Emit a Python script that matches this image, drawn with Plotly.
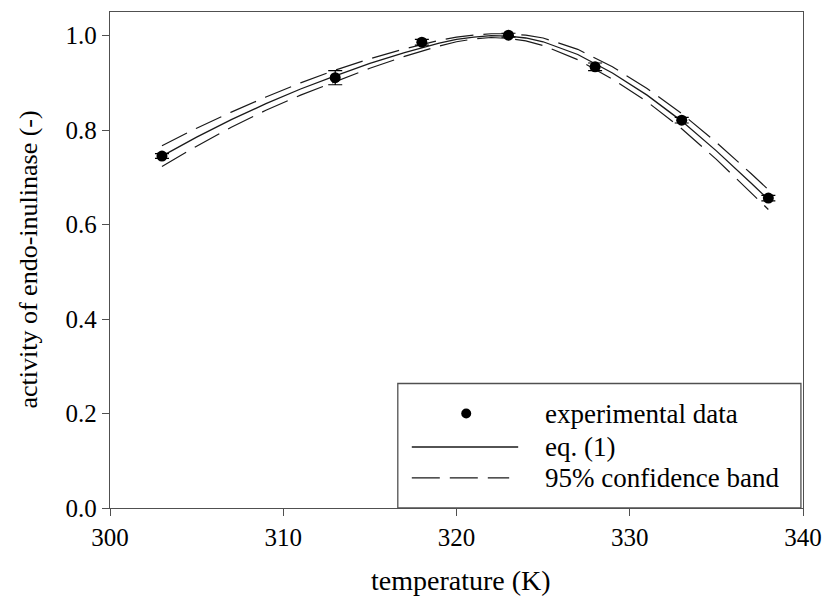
import plotly.graph_objects as go

# experimental data
T_exp = [303, 313, 318, 323, 328, 333, 338]
A_exp = [0.745, 0.911, 0.986, 1.001, 0.934, 0.821, 0.656]
A_err = [0.005, 0.015, 0.006, 0.004, 0.008, 0.006, 0.006]

# fitted curve eq. (1)
T_fit = [303, 305, 307, 309, 311, 313, 315, 317, 319, 320, 321, 322, 323, 324, 325, 327, 329, 331, 333, 335, 337, 338]
A_fit = [0.745, 0.785, 0.822, 0.856, 0.887, 0.915, 0.941, 0.964, 0.984, 0.992, 0.997, 1.000, 0.999, 0.995, 0.987, 0.960, 0.921, 0.874, 0.819, 0.756, 0.688, 0.653]
A_upper = [0.767, 0.804, 0.838, 0.870, 0.900, 0.927, 0.951, 0.972, 0.990, 0.997, 1.001, 1.004, 1.004, 1.001, 0.995, 0.971, 0.934, 0.888, 0.835, 0.774, 0.708, 0.674]
A_lower = [0.723, 0.766, 0.806, 0.842, 0.874, 0.903, 0.931, 0.956, 0.978, 0.987, 0.993, 0.996, 0.994, 0.989, 0.979, 0.949, 0.908, 0.860, 0.803, 0.738, 0.668, 0.632]

x_ticks = [300, 310, 320, 330, 340]
y_ticks = [0.0, 0.2, 0.4, 0.6, 0.8, 1.0]

legend_labels = ["experimental data", "eq. (1)", "95% confidence band"]
x_title = "temperature (K)"
y_title = "activity of endo-inulinase (-)"

FONT = "Times New Roman, Liberation Serif, Noto Serif, DejaVu Serif, serif"
INK = "#1a1a1a"
FRAME = "#505050"
DASH = "28px,10px"

fig = go.Figure()
fig.add_trace(go.Scatter(x=T_fit, y=A_upper, mode="lines",
                         line=dict(color=INK, width=1.2, dash=DASH), showlegend=False))
fig.add_trace(go.Scatter(x=T_fit, y=A_lower, mode="lines",
                         line=dict(color=INK, width=1.2, dash=DASH), showlegend=False))
fig.add_trace(go.Scatter(x=T_fit, y=A_fit, mode="lines",
                         line=dict(color=INK, width=1.3), showlegend=False))
fig.add_trace(go.Scatter(x=T_exp, y=A_exp, mode="markers",
                         marker=dict(color="black", size=11),
                         error_y=dict(type="data", array=A_err, color="black", thickness=1.2, width=7),
                         showlegend=False))

# hand-drawn legend box (paper coordinates)
shapes = [
    dict(type="rect", xref="paper", yref="paper", x0=0.4153, x1=0.997, y0=0.0, y1=0.251,
         line=dict(color=FRAME, width=1.3), fillcolor="white", layer="above"),
    dict(type="circle", xref="paper", yref="paper", x0=0.514 - 0.0072, x1=0.514 + 0.0072,
         y0=0.1905 - 0.0101, y1=0.1905 + 0.0101, fillcolor="black", line=dict(color="black", width=0),
         layer="above"),
    dict(type="line", xref="paper", yref="paper", x0=0.4355, x1=0.589, y0=0.123, y1=0.123,
         line=dict(color=INK, width=1.3), layer="above"),
    dict(type="line", xref="paper", yref="paper", x0=0.4355, x1=0.576, y0=0.0606, y1=0.0606,
         line=dict(color=INK, width=1.2, dash=DASH), layer="above"),
]
row_y = [0.1905, 0.123, 0.0606]
annotations = [
    dict(xref="paper", yref="paper", x=0.625, y=yy, text=lab, showarrow=False,
         xanchor="left", yanchor="middle", font=dict(family=FONT, size=27, color="black"))
    for lab, yy in zip(legend_labels, row_y)
]
annotations.append(dict(xref="paper", yref="paper", x=0.507, y=-0.147, text=x_title, showarrow=False,
                        xanchor="center", yanchor="middle", font=dict(family=FONT, size=28, color="black")))
annotations.append(dict(xref="paper", yref="paper", x=-0.119, y=0.5, text=y_title, showarrow=False,
                        textangle=-90, xanchor="center", yanchor="middle",
                        font=dict(family=FONT, size=26, color="black")))

fig.update_layout(
    width=825, height=604,
    margin=dict(l=110, r=22, t=12, b=96, autoexpand=False),
    paper_bgcolor="white", plot_bgcolor="white",
    font=dict(family=FONT, size=25, color="black"),
    shapes=shapes, annotations=annotations,
    showlegend=False,
)
fig.update_xaxes(range=[300, 340], tickvals=x_ticks, ticktext=[str(v) for v in x_ticks],
                 showgrid=False, zeroline=False, showline=True, linecolor=FRAME, linewidth=1.3,
                 mirror=True, ticks="outside", ticklen=7, tickcolor=FRAME, tickwidth=1.2,
                 automargin=False, tickfont=dict(family=FONT, size=25))
fig.update_yaxes(range=[0, 1.05], tickvals=y_ticks, ticktext=[f"{v:.1f}" for v in y_ticks],
                 showgrid=False, zeroline=False, showline=True, linecolor=FRAME, linewidth=1.3,
                 mirror=True, ticks="outside", ticklen=7, tickcolor=FRAME, tickwidth=1.2,
                 automargin=False, tickfont=dict(family=FONT, size=25))

fig.write_html("out.html")
